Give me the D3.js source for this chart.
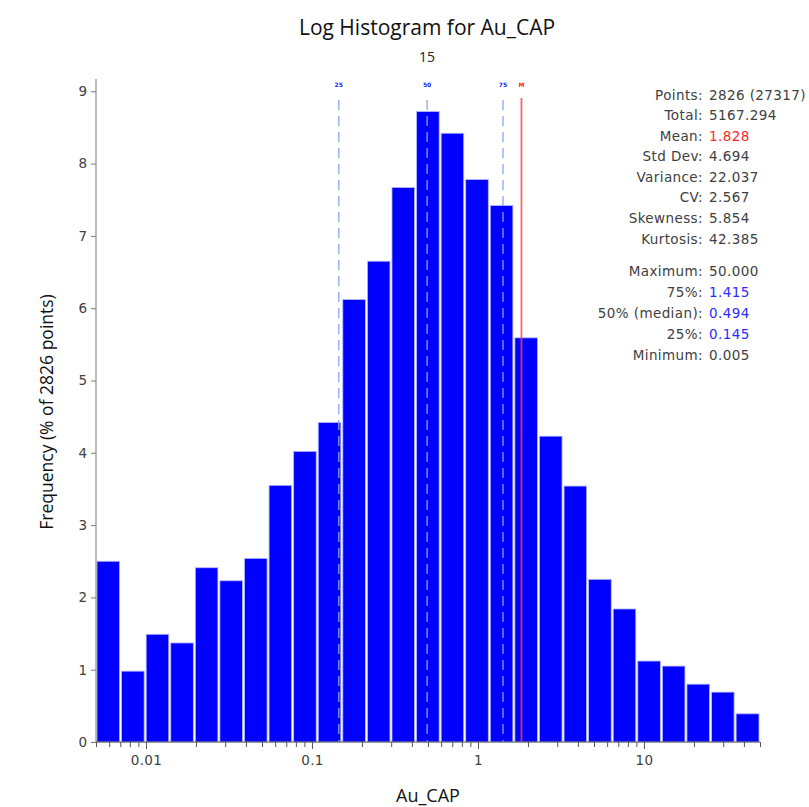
<!DOCTYPE html>
<html>
<head>
<meta charset="utf-8">
<script src="https://cdn.jsdelivr.net/npm/d3@7/dist/d3.min.js"></script>
<style>
  html, body { margin: 0; padding: 0; background: #fff; }
  svg { display: block; }
</style>
</head>
<body>
<svg id="chart" width="809" height="807"></svg>
<script>
// ---- Data ----
const binEdges = [0.005, 0.00703, 0.00989, 0.01391, 0.01956, 0.0275, 0.03868, 0.05439, 0.07649,
  0.10757, 0.15128, 0.21275, 0.29919, 0.42075, 0.5917, 0.83211, 1.1702, 1.6456, 2.3143,
  3.2545, 4.5768, 6.4364, 9.0516, 12.729, 17.901, 25.174, 35.403, 50];
const frequencies = [2.50, 0.98, 1.49, 1.37, 2.41, 2.23, 2.54, 3.55, 4.02, 4.42, 6.12, 6.65,
  7.67, 8.72, 8.42, 7.78, 7.42, 5.59, 4.23, 3.54, 2.25, 1.84, 1.12, 1.05, 0.80, 0.69, 0.39];
const yTicks = [0, 1, 2, 3, 4, 5, 6, 7, 8, 9];
const xMajorTicks = [0.01, 0.1, 1, 10];
const markerLabels = ["25", "50", "75", "M"];
const markerValues = [0.145, 0.494, 1.415, 1.828];
const statLabels = ["Points:", "Total:", "Mean:", "Std Dev:", "Variance:", "CV:", "Skewness:", "Kurtosis:",
  "Maximum:", "75%:", "50% (median):", "25%:", "Minimum:"];
const statValues = ["2826 (27317)", "5167.294", "1.828", "4.694", "22.037", "2.567", "5.854", "42.385",
  "50.000", "1.415", "0.494", "0.145", "0.005"];
const titleText = "Log Histogram for Au_CAP";
const subtitleText = "15";
const xLabel = "Au_CAP";
const yLabel = "Frequency (% of 2826 points)";

// ---- Chart ----
const svg = d3.select("#chart");
const textColor = "#404040";
const axisColor = "#7a7a7a";
const smallFont = "DejaVu Sans, Verdana, sans-serif";
const bigFont = "Open Sans, Liberation Sans, sans-serif";

const x = d3.scaleLog().domain([0.005, 50]).range([96, 760]);
const y = d3.scaleLinear().domain([0, 9.17]).range([742, 79]);

// bars
const bins = frequencies.map((f, i) => ({ x0: binEdges[i], x1: binEdges[i + 1], v: f }));
svg.append("g").selectAll("rect").data(bins).join("rect")
  .attr("x", d => x(d.x0) + 1)
  .attr("width", d => x(d.x1) - x(d.x0) - 2)
  .attr("y", d => y(d.v))
  .attr("height", d => y(0) - y(d.v))
  .attr("fill", "#0000ff")
  .attr("stroke", "#b4b8ff")
  .attr("stroke-width", 0.8);

// marker lines
const mg = svg.append("g");
markerValues.forEach((v, i) => {
  const isMean = markerLabels[i] === "M";
  mg.append("line")
    .attr("x1", x(v)).attr("x2", x(v))
    .attr("y1", isMean ? 98 : 100).attr("y2", y(0))
    .attr("stroke", isMean ? "#ff4040" : "#8aa4f0")
    .attr("stroke-opacity", isMean ? 0.8 : 0.85)
    .attr("stroke-width", isMean ? 1.8 : 1.5)
    .attr("stroke-dasharray", isMean ? null : "10,6");
  mg.append("text")
    .attr("x", x(v)).attr("y", 87)
    .attr("text-anchor", "middle")
    .attr("font-family", smallFont)
    .attr("font-size", 6)
    .attr("font-weight", "bold")
    .attr("fill", isMean ? "#ff2020" : "#2020ff")
    .text(markerLabels[i]);
});

// y axis
const yAxis = d3.axisLeft(y).tickValues(yTicks).tickSize(5).tickPadding(4).tickFormat(d3.format("d"));
const gy = svg.append("g").attr("transform", "translate(96,0)").call(yAxis);
gy.select(".domain").attr("stroke", axisColor).attr("d", `M0,${y(9.17)}V${y(0)}`);
gy.selectAll(".tick line").attr("stroke", axisColor);
gy.selectAll(".tick text").attr("fill", textColor)
  .attr("font-family", smallFont).attr("font-size", 13.5);

// x axis: major + minor ticks
const allTicks = [];
for (let p = -3; p <= 1; p++) {
  for (let m = 1; m <= 9; m++) {
    const v = +(m * Math.pow(10, p)).toPrecision(3);
    if (v >= 0.005 && v <= 50) allTicks.push(v);
  }
}
const isMajor = v => xMajorTicks.some(t => Math.abs(t - v) / t < 1e-9);
const xAxis = d3.axisBottom(x).tickValues(allTicks).tickSize(5).tickPadding(6)
  .tickFormat(v => isMajor(v) ? String(v) : "");
const gx = svg.append("g").attr("transform", `translate(0,${y(0)})`).call(xAxis);
gx.select(".domain").attr("stroke", "#555").attr("stroke-width", 1.2).attr("d", `M96,0H760`);
gx.selectAll(".tick line").attr("stroke", "#555").attr("y2", d => isMajor(d) ? 7 : 5);
gx.selectAll(".tick text").attr("fill", textColor).attr("y", 13)
  .attr("font-family", smallFont).attr("font-size", 13.5).attr("letter-spacing", 0.4);

// titles
svg.append("text").attr("x", 427).attr("y", 35).attr("text-anchor", "middle")
  .attr("font-family", bigFont).attr("font-size", 21)
  .attr("fill", "#111").text(titleText);
svg.append("text").attr("x", 427).attr("y", 62).attr("text-anchor", "middle")
  .attr("font-family", bigFont).attr("font-size", 14)
  .attr("fill", "#222").text(subtitleText);
svg.append("text").attr("x", 428).attr("y", 802).attr("text-anchor", "middle")
  .attr("font-family", bigFont).attr("font-size", 18)
  .attr("fill", "#111").text(xLabel);
svg.append("text").attr("transform", "translate(53,412) rotate(-90)").attr("text-anchor", "middle")
  .attr("font-family", bigFont).attr("font-size", 17.5)
  .attr("fill", "#111").text(yLabel);

// stats block
const statY = [100, 120, 141, 161, 182, 202, 223, 244, 276, 297, 318, 339, 360];
const statColor = i => statLabels[i] === "Mean:" ? "#ff2828"
  : (["75%:", "50% (median):", "25%:"].includes(statLabels[i]) ? "#2b2bff" : textColor);
const sg = svg.append("g").attr("font-family", smallFont).attr("font-size", 13.5)
  .attr("letter-spacing", 0.4);
statLabels.forEach((lab, i) => {
  sg.append("text").attr("x", 703).attr("y", statY[i]).attr("text-anchor", "end")
    .attr("fill", textColor).text(lab);
  sg.append("text").attr("x", 709).attr("y", statY[i]).attr("text-anchor", "start")
    .attr("fill", statColor(i)).text(statValues[i]);
});
</script>
</body>
</html>
